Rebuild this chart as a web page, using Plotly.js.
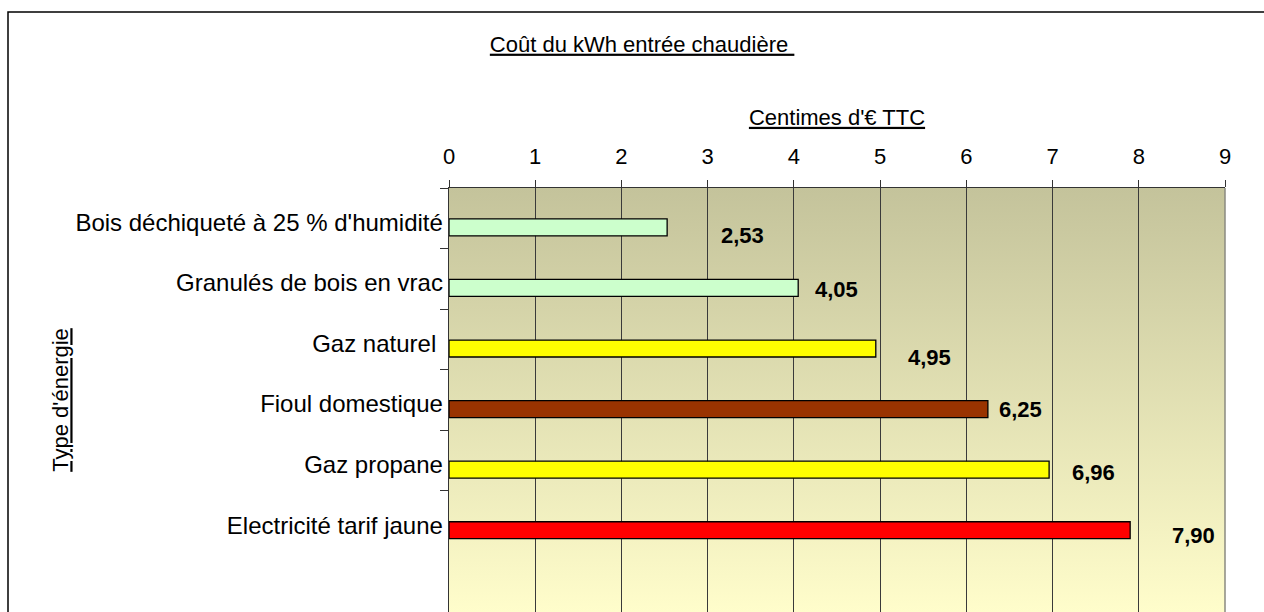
<!DOCTYPE html>
<html>
<head>
<meta charset="utf-8">
<script src="https://cdn.plot.ly/plotly-3.0.1.min.js"></script>
<style>html,body{margin:0;padding:0;background:#fff;}#chart{width:1264px;height:612px;}</style>
</head>
<body>
<div id="chart"></div>
<script>
const categories = ["Bois déchiqueté à 25 % d'humidité", "Granulés de bois en vrac", "Gaz naturel\u00a0", "Fioul domestique", "Gaz propane", "Electricité tarif jaune"];
const values = [2.53, 4.05, 4.95, 6.25, 6.96, 7.90];
const valueLabels = ["2,53", "4,05", "4,95", "6,25", "6,96", "7,90"];
const barColors = ["#ccffcc", "#ccffcc", "#ffff00", "#993300", "#ffff00", "#ff0000"];
const xTicks = [0, 1, 2, 3, 4, 5, 6, 7, 8, 9];

// label placement offsets (px), separate from data
const labelXShift = [52, 15, 30, 9, 21, 40];
const labelYShift = [-17, -11, -18, -9, -12, -14];

const FONT = "Liberation Sans, Arial, sans-serif";

const gradSvg = "<svg xmlns='http://www.w3.org/2000/svg' viewBox='0 0 10 100' width='10' height='100' preserveAspectRatio='none'>" +
  "<defs><linearGradient id='g' x1='0' y1='0' x2='0' y2='1'>" +
  "<stop offset='0' stop-color='#c4c39b'/><stop offset='1' stop-color='#fffdcb'/></linearGradient></defs>" +
  "<rect x='0' y='0' width='10' height='100' fill='url(#g)'/></svg>";
const gradUri = "data:image/svg+xml;charset=utf-8," + encodeURIComponent(gradSvg);

const W = 1264, H = 612;
const M = {l: 449, r: 39, t: 188, b: 0};
const pw = W - M.l - M.r, ph = H - M.t - M.b;
const px2x = p => (p - M.l) / pw;
const py2y = p => (H - M.b - p) / ph;

const trace = {
  type: "bar",
  orientation: "h",
  x: values,
  y: categories,
  width: 0.28,
  offset: 0.01,
  marker: {color: barColors, line: {color: "#000", width: 1.3}},
  hoverinfo: "x+y",
  showlegend: false
};

const annotations = values.map((v, i) => ({
  x: v, y: categories[i], xref: "x", yref: "y",
  text: "<b>" + valueLabels[i] + "</b>",
  showarrow: false, xanchor: "left", yanchor: "middle",
  xshift: labelXShift[i], yshift: labelYShift[i],
  font: {family: FONT, size: 22, color: "#000"}
}));

const layout = {
  width: W, height: H,
  margin: M,
  paper_bgcolor: "#ffffff",
  plot_bgcolor: "rgba(0,0,0,0)",
  font: {family: FONT, size: 22, color: "#000"},
  title: {
    text: "<u>Coût du kWh entrée chaudière\u00a0</u>",
    font: {family: FONT, size: 22, color: "#000"},
    xref: "container", yref: "container",
    x: 0.508, xanchor: "center", y: 1 - 44 / 612, yanchor: "middle"
  },
  xaxis: {
    side: "top",
    range: [0, 9],
    tickvals: xTicks,
    ticktext: xTicks.map(String),
    ticks: "outside", ticklen: 7, tickcolor: "#333", tickwidth: 1,
    ticklabelstandoff: 7,
    showgrid: true, gridcolor: "#3a3a3a", gridwidth: 1.2,
    zeroline: false,
    showline: true, linecolor: "#333", linewidth: 1.3,
    tickfont: {family: FONT, size: 22, color: "#000"},
    title: {text: "<u>Centimes d'€ TTC</u>", font: {family: FONT, size: 22, color: "#000"}, standoff: 12},
    fixedrange: true
  },
  yaxis: {
    type: "category",
    range: [6.5, -0.5],
    tickson: "boundaries",
    ticks: "outside", ticklen: 8, tickcolor: "#333", tickwidth: 1,
    ticklabelshift: -4,
    showgrid: false, zeroline: false,
    showline: true, linecolor: "#333", linewidth: 1.3,
    tickfont: {family: FONT, size: 24, color: "#000"},
    title: {text: "<u>Type d'énergie</u>", font: {family: FONT, size: 22, color: "#000"}, standoff: 0},
    fixedrange: true
  },
  images: [{
    source: gradUri, xref: "paper", yref: "paper",
    x: 0, y: 1, sizex: 1, sizey: 1, xanchor: "left", yanchor: "top",
    sizing: "stretch", layer: "below"
  }],
  shapes: [
    {type: "path", xref: "paper", yref: "paper",
     path: "M " + px2x(8) + "," + py2y(H + 5) + " L " + px2x(8) + "," + py2y(12) + " L " + px2x(W + 5) + "," + py2y(12),
     line: {color: "#000", width: 1.5}},
    {type: "line", xref: "paper", yref: "paper", x0: 1, x1: 1, y0: 0, y1: 1,
     line: {color: "#8a8a80", width: 1.5}}
  ],
  annotations: annotations,
  bargap: 0.5
};

Plotly.newPlot("chart", [trace], layout, {displayModeBar: false, staticPlot: true});
</script>
</body>
</html>
